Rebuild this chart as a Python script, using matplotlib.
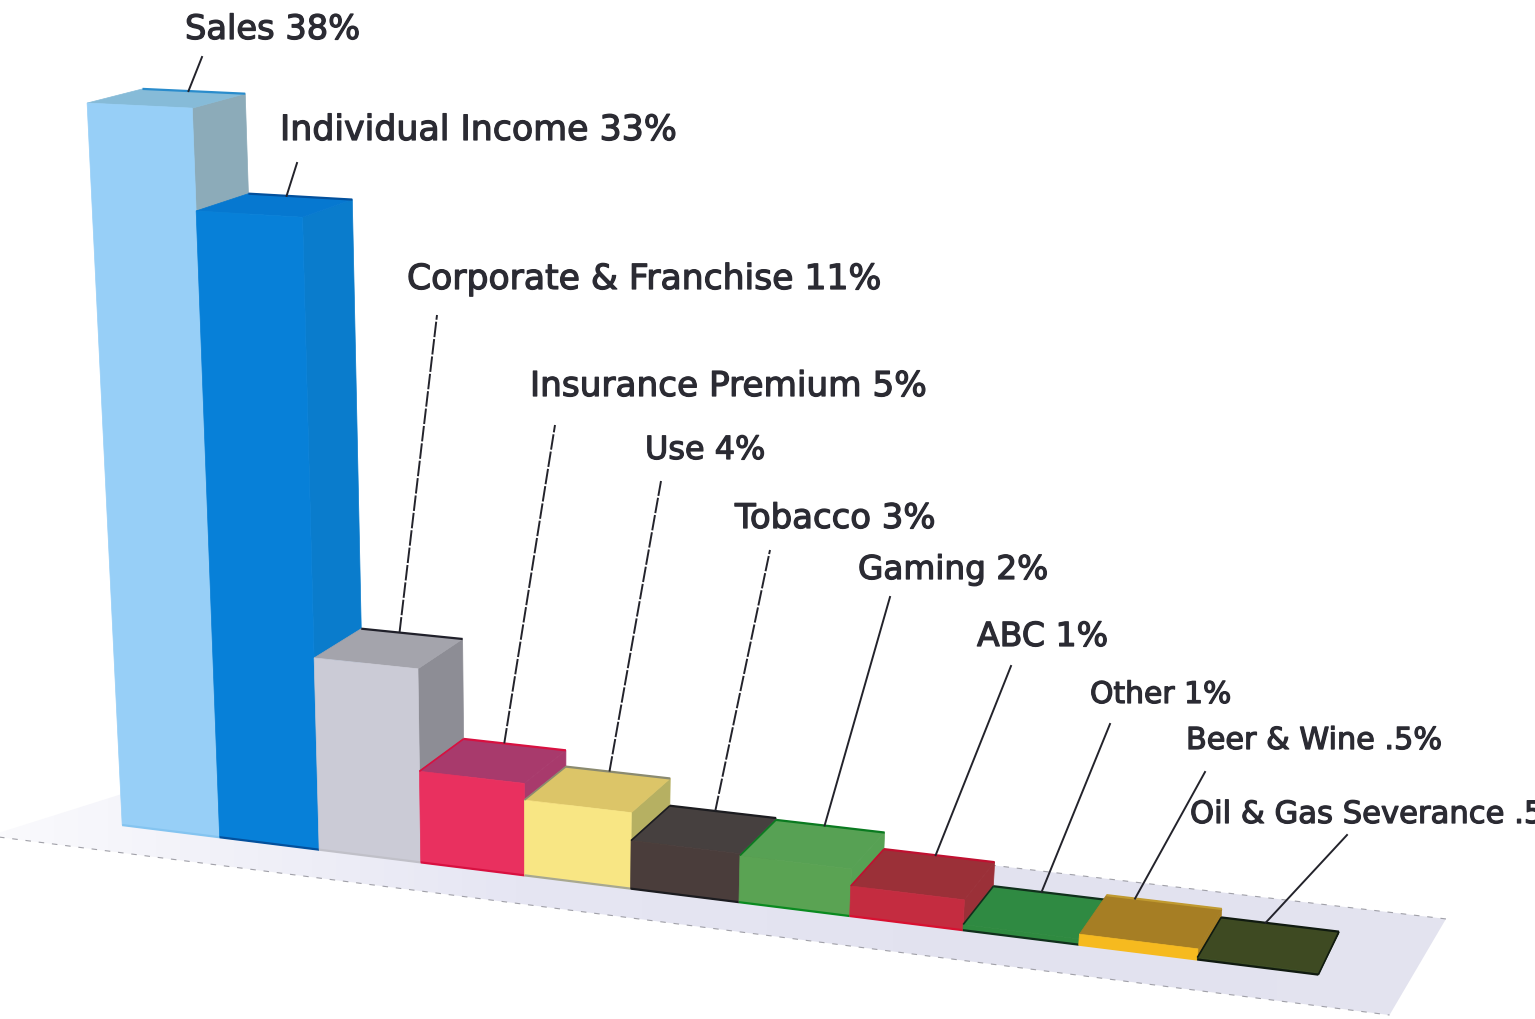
import numpy as np
import matplotlib
matplotlib.use('Agg')
import matplotlib.pyplot as plt
import matplotlib.patheffects as pe
from matplotlib.patches import Polygon

# shares as printed on the chart, bar heights
categories = ['Sales', 'Individual Income', 'Corporate & Franchise', 'Insurance Premium', 'Use',
              'Tobacco', 'Gaming', 'ABC', 'Other', 'Beer & Wine', 'Oil & Gas Severance']
share_labels = ['38%', '33%', '11%', '5%', '4%', '3%', '2%', '1%', '1%', '.5%', '.5%']
bar_heights = [38, 33, 10.5, 5.0, 4.1, 2.6, 2.5, 1.6, 0.3, 0.55, 0.1]

front_colors = ['#97cff7', '#0780d8', '#cbcbd6', '#e9305f', '#f8e684', '#4a3d3b',
                '#5aa353', '#c42c40', '#2f8a40', '#f6ba1f', '#3a4a20']
top_colors = ['#86bbd8', '#0678d0', '#a4a4ac', '#a83a6c', '#dcc568', '#46403f',
              '#57a154', '#9b3038', '#2f8a42', '#a67e24', '#3e4a22']
side_colors = ['#8cabb9', '#0a7ccc', '#8d8d95', '#a83a6c', '#b6b062', '#46403f',
               '#57a154', '#9b3038', '#2f8a42', '#a67e24', '#3e4a22']
edge_colors = ['#2a8ccc', '#03509c', '#20202a', '#d81040', '#8a8a70', '#1c1c20',
               '#0a7a20', '#c01030', '#10301c', '#c09a30', '#101a10']
base_colors = ['#84c4f0', '#03509c', '#c0c0c8', '#d81040', '#a8a890', '#1c1c20',
               '#0a8a20', '#d81030', '#10301c', '#f6ba1f', '#101a10']

# camera calibration: world (bar position, depth, height) -> picture pixel
calib_world = np.array([[0, 0, 0], [1, 0, 0], [2, 0, 0], [3, 0, 0], [4, 0, 0], [5, 0, 0], [6, 0, 0],
                        [7, 0, 0], [8, 0, 0], [9, 0, 0], [10, 0, 0], [11, 0, 0],
                        [0, 0, 38], [1, 0, 38], [0, 1, 38], [1, 1, 38],
                        [1, 0, 33], [2, 0, 33], [1, 1, 33], [2, 1, 33],
                        [2, 0, 10.5], [3, 0, 10.5], [2, 1, 10.5], [3, 1, 10.5],
                        [10, 1, 0.55], [11, 1, 0.1], [12, 1, 0.1], [9, 1, 0.55]], float)
calib_pixel = np.array([[120, 825], [217, 837], [320, 848], [422, 861], [527, 876], [632, 889], [739, 903],
                        [847, 917], [960, 931], [1076, 947], [1196, 962], [1320, 977],
                        [92, 102], [193, 106], [140, 87], [245, 95],
                        [195, 212], [302, 216], [245, 195], [352, 203],
                        [316, 655], [419, 668], [363, 630], [465, 640],
                        [1222, 912], [1342, 925], [1460, 940], [1105, 898]], float)


def fit_camera(world, pixel):
    rows, rhs = [], []
    for (X, Y, Z), (u, v) in zip(world, pixel):
        rows.append([X, Y, Z, 1, 0, 0, 0, 0, -u*X, -u*Y, -u*Z])
        rows.append([0, 0, 0, 0, X, Y, Z, 1, -v*X, -v*Y, -v*Z])
        rhs += [u, v]
    p = np.linalg.lstsq(np.array(rows), np.array(rhs), rcond=None)[0]
    return np.append(p, 1).reshape(3, 4)


CAM = fit_camera(calib_world, calib_pixel)


def project(pts):
    pts = np.atleast_2d(np.array(pts, float))
    h = CAM @ np.c_[pts, np.ones(len(pts))].T
    return (h[:2] / h[2]).T


W, H = 1535, 1019
fig = plt.figure(figsize=(W/100, H/100), dpi=100)
ax = fig.add_axes([0, 0, 1, 1])
ax.set_xlim(0, W)
ax.set_ylim(H, 0)
ax.axis('off')

# floor with a light gradient, whiter at the left end
floor = project([[-1.0, -0.68, 0], [11.68, -0.68, 0], [11.8, 1.66, 0], [-0.1, 1.66, 0]])
floor_patch = Polygon(floor, closed=True, fc='none', ec='none')
ax.add_patch(floor_patch)
img = ax.imshow(np.linspace(0, 1, 256).reshape(1, -1), extent=(0, W, H, 0), aspect='auto', zorder=1,
                cmap=matplotlib.colors.LinearSegmentedColormap.from_list(
                    'fl', ['#fafafd', '#e6e6f3', '#e2e2ef', '#e4e4f0']))
img.set_clip_path(floor_patch)
ax.set_xlim(0, W)
ax.set_ylim(H, 0)
ax.plot(*floor[:2].T, color='#a0a0a8', lw=0.8, ls=(0, (5, 7)), zorder=1.5)
ax.plot(*floor[2:].T, color='#a0a0a8', lw=0.8, ls=(0, (5, 7)), zorder=1.5)

# bars, left to right since the right end is closest to the viewer
for i, h in enumerate(bar_heights):
    z = 2 + i*0.1
    front = project([[i, 0, 0], [i+1, 0, 0], [i+1, 0, h], [i, 0, h]])
    side = project([[i+1, 0, 0], [i+1, 1, 0], [i+1, 1, h], [i+1, 0, h]])
    top = project([[i, 0, h], [i+1, 0, h], [i+1, 1, h], [i, 1, h]])
    ax.fill(*side.T, color=side_colors[i], lw=0.5, zorder=z)
    ax.fill(*top.T, color=top_colors[i], lw=0.5, zorder=z)
    ax.fill(*front.T, color=front_colors[i], lw=0.5, zorder=z)
    back = project([[i, 1, h], [i+1, 1, h]])
    ax.plot(*back.T, color=edge_colors[i], lw=1.6, zorder=z+0.05, solid_capstyle='butt')
    base = project([[i, 0, 0], [i+1, 0, 0]])
    ax.plot(*base.T, color=base_colors[i], lw=1.6, zorder=z+0.05, solid_capstyle='butt')
    if 3 <= i <= 8 or i == 10:
        left = project([[i, 0, h], [i, 1, h]])
        ax.plot(*left.T, color=edge_colors[i], lw=1.2, zorder=z+0.05, solid_capstyle='butt')
    if i == 10:
        right = project([[i+1, 0, 0], [i+1, 1, h]])
        ax.plot(*right.T, color=edge_colors[i], lw=1.2, zorder=z+0.05, solid_capstyle='butt')

# label layout in picture pixels
label_x = [185, 280, 407, 530, 645, 735, 858, 977, 1090, 1186, 1190]
label_y = [39, 140, 289, 396, 459, 528, 579, 646, 703, 749, 823]
label_w = [175, 397, 474, 397, 120, 200, 190, 131, 141, 256, 382]
leader_top = [(202, 57), (297, 163), (437, 315), (555, 425), (661, 481), (770, 550),
              (890, 597), (1011, 666), (1110, 724), (1205, 772), (1347, 835)]
leader_pos = [0.45, 0.37, 0.38, 0.40, 0.42, 0.43, 0.45, 0.47, 0.43, 0.25, 0.38]
leader_dash = [False, False, True, True, True, True, False, False, False, False, False]

renderer = fig.canvas.get_renderer()
for i, (name, share) in enumerate(zip(categories, share_labels)):
    t = ax.text(label_x[i], label_y[i], name + ' ' + share, ha='left', va='baseline',
                color='#2b2b33', fontsize=20, family='DejaVu Sans', zorder=10)
    t.set_fontsize(20*label_w[i]/t.get_window_extent(renderer).width)
    t.set_path_effects([pe.withStroke(linewidth=0.9, foreground='#2b2b33')])
    start = project([[i+leader_pos[i], 1, bar_heights[i]]])[0]
    ax.plot([start[0], leader_top[i][0]], [start[1], leader_top[i][1]], color='#23232b', lw=1.4, zorder=9,
            ls=(0, (8, 1)) if leader_dash[i] else '-')

fig.savefig('out.png', dpi=100)
